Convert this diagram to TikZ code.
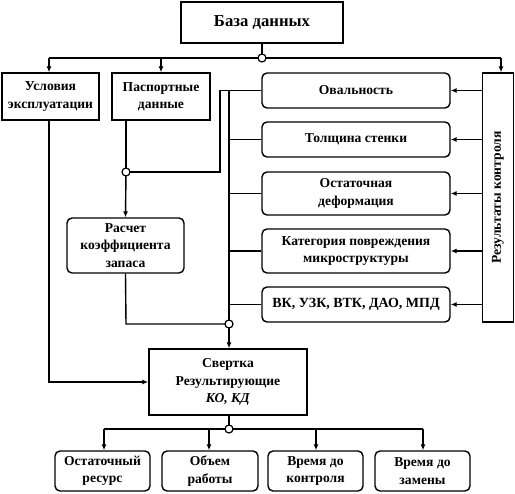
\documentclass[tikz,border=0pt]{standalone}
\usepackage{fontspec}
\setmainfont{Liberation Serif}
\usetikzlibrary{arrows.meta}
\begin{document}
\begin{tikzpicture}[x=1pt,y=-1pt,
  line width=1.4pt,
  sq/.style={draw, rectangle, inner sep=2pt, align=center, font=\fontsize{13.6}{17.5}\selectfont\bfseries},
  rd/.style={sq, rounded corners=5pt},
  arr/.style={-{Latex[length=6pt,width=5pt]}},
  jn/.style={draw, circle, fill=white, inner sep=0pt, minimum size=8pt, line width=1.2pt}]
\useasboundingbox (0,0) rectangle (515,494);
% nodes
\node[sq, minimum width=162pt, minimum height=41pt, font=\fontsize{16.7}{20}\selectfont\bfseries] (db) at (262,22.5) {База данных};
\node[sq, minimum width=97pt, minimum height=47pt] (usl) at (50.5,96.5) {Условия\\эксплуатации};
\node[sq, minimum width=98pt, minimum height=47pt] (pasp) at (161,96.5) {Паспортные\\данные};
\node[sq, minimum width=31pt, minimum height=249pt] (res) at (498,197.5) {};
\node[rotate=90, font=\fontsize{13.6}{17}\selectfont\bfseries] (restext) at (res.center) {Результаты контроля};
\node[rd, minimum width=188pt, minimum height=35pt] (oval) at (356,90.5) {Овальность};
\node[rd, minimum width=188pt, minimum height=35pt] (tol) at (356,139.5) {Толщина стенки};
\node[rd, minimum width=188pt, minimum height=43pt] (ost) at (356,193.5) {Остаточная\\деформация};
\node[rd, minimum width=188pt, minimum height=44pt] (kat) at (356,251) {Категория повреждения\\микроструктуры};
\node[rd, minimum width=188pt, minimum height=35pt, font=\fontsize{14}{17}\selectfont\bfseries] (vk) at (356,304.5) {ВК, УЗК, ВТК, ДАО, МПД};
\node[rd, minimum width=117pt, minimum height=55pt] (rasch) at (125.5,245.5) {Расчет\\коэффициента\\запаса};
\node[sq, minimum width=158pt, minimum height=66pt] (svert) at (228,382) {Свертка\\Результирующие\\\textit{КО, КД}};
\node[rd, minimum width=95pt, minimum height=40pt] (b1) at (102.5,471) {Остаточный\\ресурс};
\node[rd, minimum width=96pt, minimum height=40pt] (b2) at (210,471) {Объем\\работы};
\node[rd, minimum width=95pt, minimum height=40pt] (b3) at (315.5,471) {Время до\\контроля};
\node[rd, minimum width=95pt, minimum height=40pt] (b4) at (422.5,471) {Время до\\замены};
% coordinates
\coordinate (tl) at (49,58);
\coordinate (tr) at (501,58);
\coordinate (tp) at (161,58);
\coordinate (pd) at (126,120);
\coordinate (bus) at (229,90.5);
\coordinate (loop) at (220,172);
\coordinate (loopt) at (220,90.5);
\coordinate (rb) at (126,324);
\coordinate (bl) at (104,429);
\coordinate (br) at (423,429);
% top bus
\draw (tl) -- (tr);
\draw (db.south) -- (262,58);
\draw[arr] (tl) -- (usl.north -| tl);
\draw[arr] (tp) -- (pasp.north);
\draw[arr] (tr) -- (res.north -| tr);
% right arrows
\foreach \n in {oval,tol,ost,kat,vk}{
  \draw[arr] (res.west |- \n.east) -- (\n.east);
}
% left bus
\draw (bus) -- (229,324);
\foreach \n in {tol,ost,kat,vk}{
  \draw (\n.west) -- (\n.west -| bus);
}
\draw (oval.west) -- (loopt) -- (loop) -- (126,172);
\draw (pd) -- (126,172);
\draw[arr] (126,172) -- (rasch.north);
\draw (rasch.south) -- (rb) -- (229,324);
\draw[arr] (229,324) -- (svert.north -| 229,0);
\draw[arr] (usl.south -| tl) |- (svert.west);
% bottom
\draw (svert.south -| 229,0) -- (229,429);
\draw (bl) -- (br);
\draw[arr] (bl) -- (b1.north -| bl);
\draw[arr] (209,429) -- (b2.north -| 209,0);
\draw[arr] (316,429) -- (b3.north -| 316,0);
\draw[arr] (br) -- (b4.north -| br);
% junctions
\node[jn] (j1) at (262,58) {};
\node[jn] (j2) at (126,172) {};
\node[jn] (j3) at (229,324) {};
\node[jn] (j4) at (229,429) {};
\end{tikzpicture}
\end{document}
